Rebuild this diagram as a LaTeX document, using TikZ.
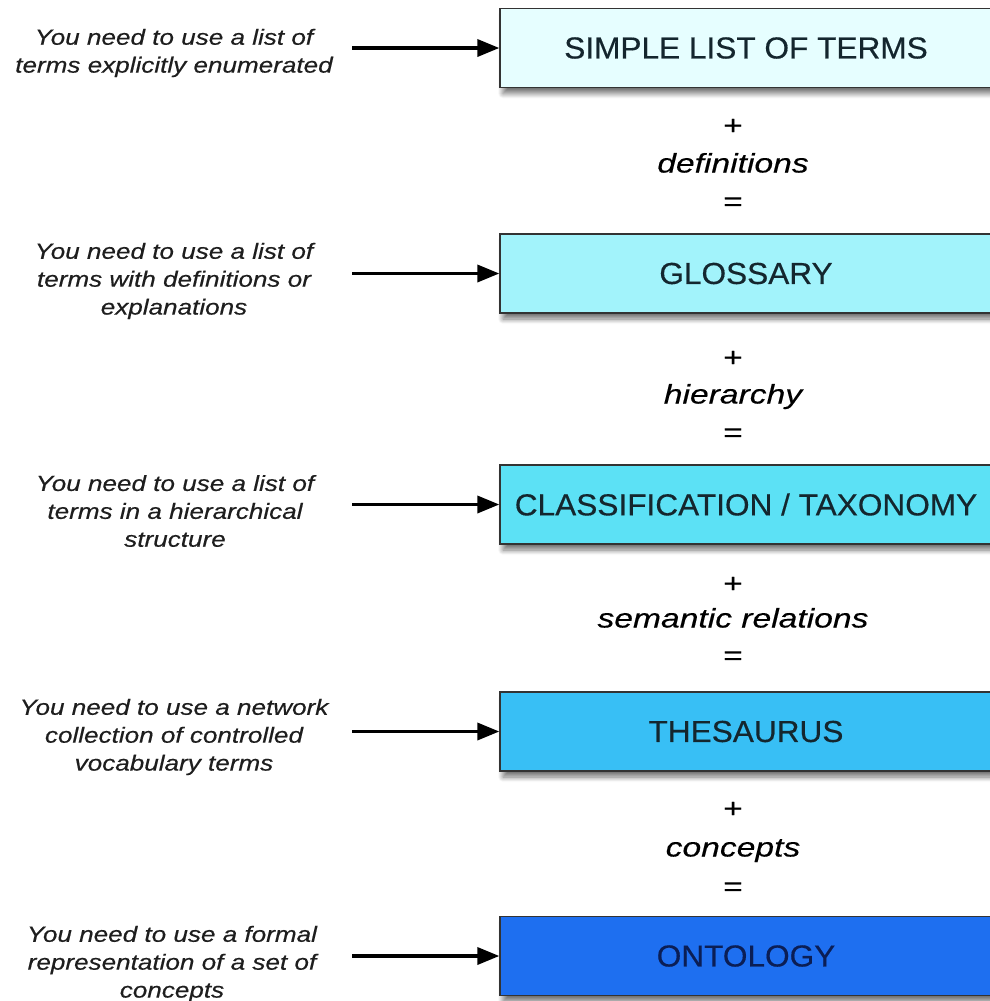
\documentclass[tikz,border=0pt]{standalone}
\usepackage{fontspec}
\setmainfont{Liberation Sans}
\newfontfamily\lblfont[FakeStretch=1.19,FakeBold=0.4]{Liberation Sans}
\newfontfamily\midfont[FakeStretch=1.25,FakeBold=0.3]{Liberation Sans}
\newfontfamily\boxfont[FakeStretch=1.04,FakeBold=0.4]{Liberation Sans}
\usetikzlibrary{shadows,shadows.blur,arrows.meta}
\definecolor{cA}{HTML}{E6FEFF}
\definecolor{cB}{HTML}{A2F3FB}
\definecolor{cC}{HTML}{5CE1F5}
\definecolor{cD}{HTML}{38BFF5}
\definecolor{cE}{HTML}{1E6FF0}
\definecolor{boxtext}{HTML}{14262E}
\definecolor{ontotext}{HTML}{0B1E55}
\definecolor{lbltext}{HTML}{1E1E1E}
\tikzset{
  termbox/.style={draw=black!80, line width=1.3bp, minimum width=492bp,
    minimum height=79bp, inner sep=0pt, text=boxtext,
    font=\boxfont\fontsize{30.5}{36}\selectfont,
    blur shadow={shadow xshift=3bp, shadow yshift=-6bp, shadow blur radius=5bp,
      shadow blur steps=10, shadow opacity=55}},
  need/.style={align=center, text=lbltext, inner sep=0pt,
    font=\lblfont\itshape\fontsize{22}{28}\selectfont},
  optext/.style={inner sep=0pt, text height=19bp, text depth=0pt,
    font=\midfont\fontsize{27}{30}\selectfont},
  feed/.style={line width=3.5bp, -{Triangle[length=22bp,width=17bp]}}
}
\begin{document}
\begin{tikzpicture}[x=1bp,y=-1bp]
\useasboundingbox (0,0) rectangle (990,1001);
\clip (0,0) rectangle (990,1001);

% boxes
\node[termbox, fill=cA] (b1) at (746,48)    {SIMPLE LIST OF TERMS};
\node[termbox, fill=cB] (b2) at (746,273.5) {GLOSSARY};
\node[termbox, fill=cC] (b3) at (746,504.5) {CLASSIFICATION / TAXONOMY};
\node[termbox, fill=cD] (b4) at (746,731.5) {THESAURUS};
\node[termbox, fill=cE, text=ontotext] (b5) at (746,956) {ONTOLOGY};

% operators
\node[optext] (p1) at (733,125) {+};
\node[optext] (t1) at (733,163) {\itshape definitions};
\node[optext] (e1) at (733,201) {=};
\node[optext] (p2) at (733,357) {+};
\node[optext] (t2) at (733,394) {\itshape hierarchy};
\node[optext] (e2) at (733,432) {=};
\node[optext] (p3) at (733,583) {+};
\node[optext] (t3) at (733,618) {\itshape semantic relations};
\node[optext] (e3) at (733,655) {=};
\node[optext] (p4) at (733,808) {+};
\node[optext] (t4) at (733,847) {\itshape concepts};
\node[optext] (e4) at (733,886) {=};

% left labels
\node[need] (l1) at (174,53)  {You need to use a list of\\terms explicitly enumerated};
\node[need] (l2) at (174,281) {You need to use a list of\\terms with definitions or\\explanations};
\node[need] (l3) at (175,511) {You need to use a list of\\terms in a hierarchical\\structure};
\node[need] (l4) at (174,737) {You need to use a network\\collection of controlled\\vocabulary terms};
\node[need] (l5) at (172,964) {You need to use a formal\\representation of a set of\\concepts};

% arrow starts
\coordinate (s1) at (352,48);
\coordinate (s2) at (352,273.5);
\coordinate (s3) at (352,504.5);
\coordinate (s4) at (352,731.5);
\coordinate (s5) at (352,956);

\draw[feed] (s1) -- (b1.west);
\draw[feed] (s2) -- (b2.west);
\draw[feed] (s3) -- (b3.west);
\draw[feed] (s4) -- (b4.west);
\draw[feed] (s5) -- (b5.west);
\end{tikzpicture}
\end{document}
